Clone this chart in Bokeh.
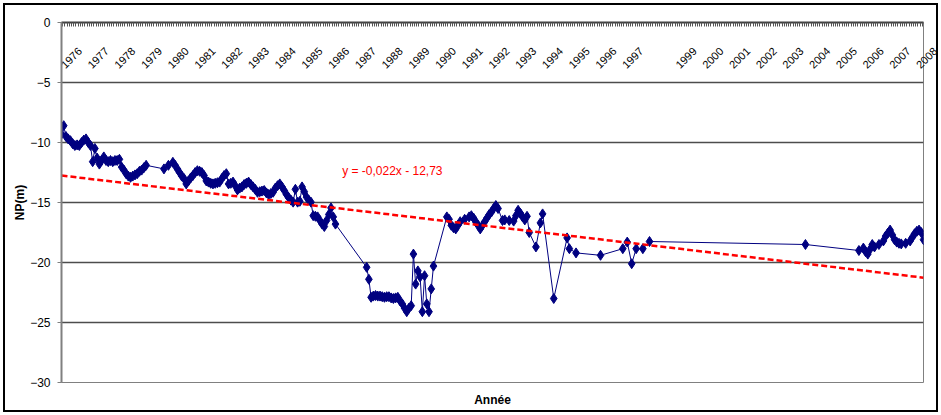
import math
from bokeh.plotting import figure
from bokeh.models import (ColumnDataSource, Range1d, LinearAxis, FixedTicker,
                          Label, CustomJSTickFormatter, InlineStyleSheet)
from bokeh.embed import file_html
from bokeh.resources import INLINE

# Piezometric level NP (m) per measurement, indexed by row (category) number
row_index = [
    1, 2, 3, 4, 5, 6, 7, 8, 9, 10, 11, 12, 13, 14, 15, 16, 17, 18, 19, 20,
    21, 22, 23, 24, 25, 26, 27, 28, 29, 30, 31, 32, 33, 34, 35, 36, 37, 38, 39,
    47, 49, 51, 52, 53, 54, 55, 56, 57, 58, 59, 60, 61, 62, 63, 64, 65, 66, 67,
    68, 69, 70, 71, 72, 73, 74, 75, 76, 77, 78, 79, 80, 81, 82, 83, 84, 85, 86,
    87, 88, 89, 90, 91, 92, 93, 94, 95, 96, 97, 98, 99, 100, 101, 102, 103, 104,
    105, 106, 107, 108, 109, 110, 111, 112, 113, 114, 115, 116, 117, 118, 119,
    120, 121, 122, 123, 124,
    138, 139, 140, 141, 142, 143, 144, 145, 146, 147, 148, 149, 150, 151, 152,
    153, 154, 155, 156, 157, 158, 159, 160, 161, 162, 163, 164, 165, 166, 167, 168,
    174, 175, 176, 177, 178, 179, 180, 182, 184, 185, 186, 187, 188, 189, 190,
    191, 192, 193, 194, 195, 196, 197, 199, 200, 202, 204, 205, 206, 207, 208,
    209, 210, 211, 214, 216, 217, 222, 228, 229, 232, 243, 253, 255, 257, 259,
    262, 265, 335, 359, 361, 362, 363, 364, 365, 366, 368, 370, 371, 372, 373,
    374, 375, 376, 377, 378, 380, 382, 383, 384, 385, 386, 387, 388,
]
np_level = [
    -9.3, -8.6, -9.5, -9.7, -9.85, -10.1, -10.25, -10.2, -10.25, -10.0, -9.8,
    -9.7, -10.0, -10.25, -11.6, -10.5, -11.3, -11.8, -11.5, -11.2,
    -11.5, -11.6, -11.5, -11.6, -11.5, -11.5, -11.4, -12.05, -12.3, -12.6, -12.8,
    -12.9, -12.8, -12.7, -12.6, -12.4, -12.3, -12.1, -11.9,
    -12.2, -11.9, -11.65, -11.9, -12.2, -12.5, -12.8, -13.0, -13.45, -13.2,
    -12.95, -12.75, -12.5, -12.35, -12.4, -12.5, -12.75, -13.2, -13.3,
    -13.4, -13.45, -13.4, -13.35, -13.3, -13.0, -12.75, -12.6, -13.45, -13.4,
    -13.3, -13.6, -13.95, -13.8, -13.7, -13.5, -13.4, -13.3, -13.5,
    -13.7, -13.9, -14.15, -14.1, -14.05, -14.0, -14.2, -14.33, -14.25, -14.15,
    -13.8, -13.6, -13.45, -13.7, -14.0, -14.33, -14.6, -14.8,
    -14.97, -13.9, -14.97, -14.9, -13.7, -14.1, -14.55, -14.8, -14.97, -16.1,
    -16.15, -16.2, -16.5, -16.8, -17.0,
    -16.5, -16.0, -15.45, -16.2, -16.8,
    -20.4, -21.4, -22.9, -22.8, -22.75, -22.8, -22.8, -22.85, -22.9, -22.85,
    -22.85, -22.95, -23.0, -22.95, -22.9,
    -23.2, -23.45, -23.8, -24.1, -23.8, -23.6, -19.3, -21.8, -20.7, -21.2,
    -24.1, -21.1, -23.45, -24.1, -22.2, -20.3,
    -16.2, -16.4, -16.9, -17.1, -17.2, -16.9, -16.6, -16.4, -16.2, -16.1, -16.3,
    -16.6, -16.9, -17.2, -16.9,
    -16.6, -16.3, -16.0, -15.8, -15.5, -15.25, -15.5, -16.5, -16.45, -16.5,
    -16.55, -16.1, -15.65, -15.9, -16.2,
    -16.45, -16.15, -17.5, -18.7, -16.7, -15.95, -23.0, -17.95, -18.85, -19.2,
    -19.4, -18.85, -18.3, -20.1, -18.85,
    -18.85, -18.25, -18.5, -19.0, -18.8, -19.1, -19.3, -18.9, -18.5, -18.7,
    -18.5, -18.2, -17.8, -17.55, -17.3,
    -17.7, -18.1, -18.3, -18.4, -18.45, -18.4, -18.2, -17.9, -17.6, -17.4,
    -17.3, -17.5, -18.1,
]

# Year labels shown along the category axis (one every 12 rows, 1998 absent)
year_labels = [str(y) for y in range(1976, 1998)] + [str(y) for y in range(1999, 2009)]
year_rows = [1, 13, 25, 37, 49, 61, 73, 85, 97, 109, 121, 133, 145, 157, 169,
             181, 193, 205, 217, 229, 241, 253,
             277, 289, 301, 313, 325, 337, 349, 361, 373, 385]

y_ticks = [0, -5, -10, -15, -20, -25, -30]
n_rows = 388

# Linear trend of NP against row number
slope = -0.022
intercept = -12.73

FONT = "Liberation Sans"
NAVY = "#000080"

p = figure(width=941, height=415,
           x_range=Range1d(1, n_rows), y_range=Range1d(-30, 0),
           output_backend="svg", toolbar_location=None,
           x_axis_location=None, y_axis_location="left",
           min_border_left=61, min_border_right=18,
           min_border_top=22, min_border_bottom=33,
           background_fill_color="white", border_fill_alpha=0)

# outer chart frame, drawn on the host element around the canvas
p.stylesheets = [InlineStyleSheet(css=":host { background: white; "
                                      "box-shadow: inset 0 0 0 3px white, inset 0 0 0 5px black; }")]

p.outline_line_color = "#808080"
p.outline_line_width = 1

# y axis
ya = p.yaxis[0]
ya.ticker = FixedTicker(ticks=y_ticks)
ya.minor_tick_line_color = None
ya.major_tick_in = 0
ya.major_tick_out = 4
ya.major_tick_line_color = "#808080"
ya.axis_line_color = "#808080"
ya.axis_line_width = 2
ya.major_label_standoff = 7
ya.major_label_text_font = FONT
ya.major_label_text_font_size = "12px"
ya.major_label_text_color = "black"
ya.axis_label = "NP(m)"
ya.axis_label_text_font = FONT
ya.axis_label_text_font_size = "12px"
ya.axis_label_text_font_style = "bold"
ya.axis_label_text_color = "black"
ya.axis_label_standoff = 0

p.ygrid.ticker = FixedTicker(ticks=y_ticks)
p.ygrid.grid_line_color = "#4d4d4d"
p.ygrid.grid_line_width = 1.6
p.xgrid.visible = False

# category axis on top: one tick per row boundary, a year every 12 rows,
# labels slanted and hanging inside the plot area
boundaries = [i + 0.5 for i in range(1, n_rows)]
year_formatter = CustomJSTickFormatter(
    args=dict(rows=year_rows, labels=year_labels),
    code="const i = rows.indexOf(tick - 0.5); return i >= 0 ? labels[i] : '';")
top_axis = LinearAxis(ticker=FixedTicker(ticks=boundaries),
                      formatter=year_formatter,
                      major_tick_in=4, major_tick_out=0,
                      major_tick_line_color="#555555", major_tick_line_width=1,
                      minor_tick_line_color=None,
                      axis_line_color="#404040", axis_line_width=2,
                      major_label_orientation=math.pi / 4,
                      major_label_standoff=-44,
                      major_label_text_font=FONT,
                      major_label_text_font_size="11px",
                      major_label_text_color="black")
p.add_layout(top_axis, "above")

# axis title below the plot area
bottom_axis = LinearAxis(ticker=FixedTicker(ticks=[]),
                         axis_line_color=None, major_tick_in=0, major_tick_out=0,
                         minor_tick_line_color=None,
                         major_label_text_font_size="1px",
                         axis_label="Année", axis_label_text_font=FONT,
                         axis_label_text_font_size="12px",
                         axis_label_text_font_style="bold",
                         axis_label_text_color="black",
                         axis_label_standoff=10)
p.add_layout(bottom_axis, "below")

# measurements
src = ColumnDataSource(dict(x=row_index, y=np_level))
p.line("x", "y", source=src, line_color=NAVY, line_width=1)
p.scatter("x", "y", source=src, marker="diamond", size=10,
          fill_color=NAVY, line_color=NAVY, line_width=1)

# trend line and its equation
trend_x = [1, n_rows]
trend_y = [slope * x + intercept for x in trend_x]
p.line(trend_x, trend_y, line_color="#ff0000", line_width=2.5, line_dash="6 3")

eq_text = "y = {:.3f}x  - {:.2f}".format(slope, abs(intercept)).replace(".", ",")
p.add_layout(Label(x=127, y=-12.39, text=eq_text, text_align="left",
                   text_baseline="middle", text_font=FONT, text_font_size="12px",
                   text_color="#ff0000"))

open("out.html", "w").write(file_html(p, INLINE))
